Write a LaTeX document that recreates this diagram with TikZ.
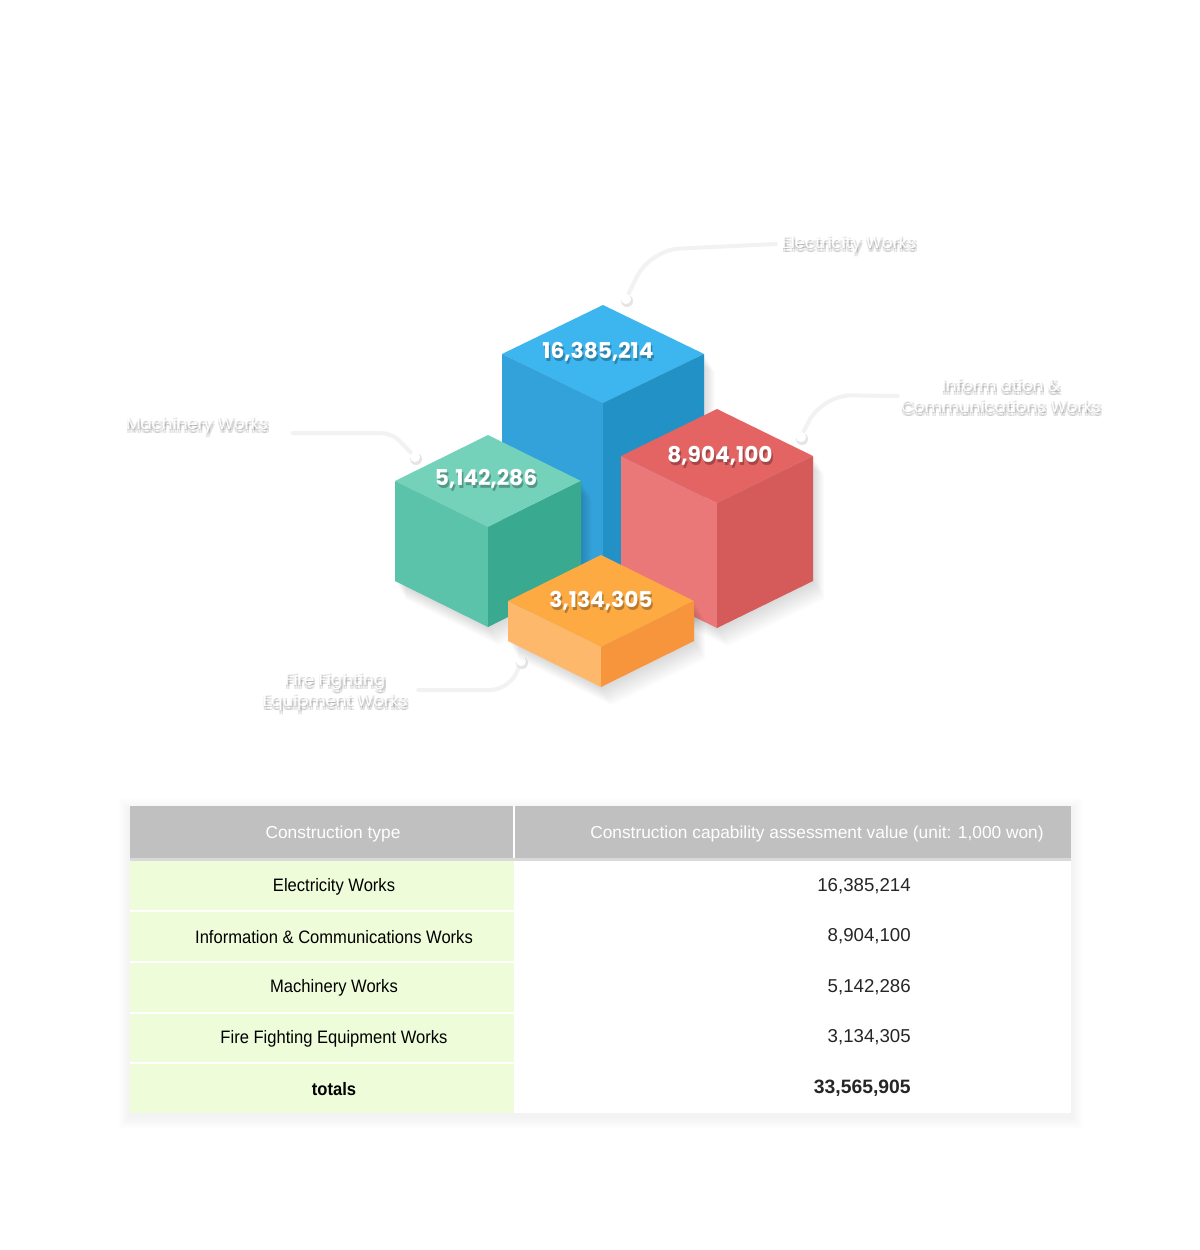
\documentclass[tikz,border=0pt]{standalone}
\usepackage{fontspec}
\setmainfont{Liberation Sans}
\newfontfamily\popfont{Poppins}
\newfontfamily\narrowfont[FakeStretch=0.92]{Liberation Sans}

\definecolor{bluetop}{HTML}{3DB6EF}
\definecolor{blueleft}{HTML}{33A2DA}
\definecolor{blueright}{HTML}{2291C6}
\definecolor{greentop}{HTML}{74D2BA}
\definecolor{greenleft}{HTML}{5CC3AB}
\definecolor{greenright}{HTML}{39AA8F}
\definecolor{redtop}{HTML}{E46363}
\definecolor{redleft}{HTML}{EB7878}
\definecolor{redright}{HTML}{D55B5B}
\definecolor{orangetop}{HTML}{FDAA43}
\definecolor{orangeleft}{HTML}{FDB86B}
\definecolor{orangeright}{HTML}{F6953B}
\definecolor{headgray}{HTML}{C0C0C0}
\definecolor{rowgreen}{HTML}{EEFCDA}

% name, x, top y, half width, half depth, height, top, left, right
\newcommand\isocube[9]{%
  \begin{scope}[shift={(#2,#3)}]
    \foreach \s in {2,4,...,18}
      \fill[black,opacity=.017] (\s*.6,\s) -- (#4+\s*.6,#5+\s) -- (#4+\s*.6,#5+#6+\s)
        -- (\s*.6,2*#5+#6+\s) -- (-#4+\s*.6,#5+#6+\s) -- (-#4+\s*.6,#5+\s) -- cycle;
    \fill[#7] (0,0) -- (#4,#5) -- (0,2*#5) -- (-#4,#5) -- cycle;
    \fill[#8] (-#4,#5) -- (0,2*#5) -- (0,2*#5+#6) -- (-#4,#5+#6) -- cycle;
    \fill[#9] (0,2*#5) -- (#4,#5) -- (#4,#5+#6) -- (0,2*#5+#6) -- cycle;
    \coordinate (#1) at (0,#5);
  \end{scope}}

% name, style, x, y, text
\newcommand\shadowtext[5]{%
  \node[#2,text=black,opacity=.28] (#1-sh) at (#3+1.5,#4+2.5) {#5};
  \node[#2] (#1) at (#3,#4) {#5};}

\newcommand\ghosttext[5]{%
  \foreach \dx/\dy in {0/1,2/1,0/4,2/4}
    \node[#2,text=black,opacity=.11] (#1-sh\dx\dy) at (#3+\dx,#4+\dy) {#5};
  \node[#2] (#1) at (#3,#4) {#5};}

\begin{document}
\begin{tikzpicture}[x=0.75pt,y=-0.75pt,
    cubeval/.style={font=\popfont\bfseries\fontsize{16.3}{16}\selectfont,text=white},
    ghost/.style={font=\popfont\fontsize{12.5}{15.5}\selectfont,text=white,align=center},
    leader/.style={draw=black!5,line width=3pt,line cap=round},
    dot/.style={fill=white},
    headtxt/.style={font=\fontsize{13}{14}\selectfont,text=white},
    rowtxt/.style={font=\narrowfont\fontsize{13.5}{14}\selectfont,text=black},
    valtxt/.style={font=\fontsize{14}{14}\selectfont,text=black!85,anchor=east,inner sep=0pt}]
  \fill[white] (0,0) rectangle (1200,1250);
  \useasboundingbox (0,0) rectangle (1200,1250);

  % labels and leaders
  \ghosttext{elec}{ghost}{849}{244}{Electricity Works}
  \ghosttext{info}{ghost}{1001}{396}{Inform ation \&\\Communications Works}
  \ghosttext{mach}{ghost}{197}{425}{Machinery Works}
  \ghosttext{fire}{ghost}{335}{692}{Fire Fighting\\Equipment Works}
  \coordinate (elec-dot) at (626,299);
  \coordinate (info-dot) at (801,437);
  \coordinate (mach-dot) at (415,457);
  \coordinate (fire-dot) at (521,661);
  \draw[leader,rounded corners=22] ([xshift=-1pt]elec.west) -- (650,250) -- (elec-dot);
  \draw[leader,rounded corners=22] ([xshift=1pt]info.west) -- (822,395) -- (info-dot);
  \draw[leader,rounded corners=8] ([shift={(20,8)}]mach.east) -- (392,433) -- (mach-dot);
  \draw[leader,rounded corners=15] ([shift={(6,-2)}]fire.east) -- (510,690) -- (fire-dot);
  \foreach \d in {elec-dot,info-dot,mach-dot,fire-dot} {
    \fill[black!10] ([shift={(1,2)}]\d) circle (4.5pt);
    \fill[dot] (\d) circle (3.8pt);
  }

  % cubes
  \isocube{elec-cube}{603}{305}{101}{49}{240}{bluetop}{blueleft}{blueright}
  \isocube{mach-cube}{488}{435}{93}{46}{100}{greentop}{greenleft}{greenright}
  \isocube{info-cube}{717}{409}{96}{47}{125}{redtop}{redleft}{redright}
  \isocube{fire-cube}{601}{555}{93}{46}{40}{orangetop}{orangeleft}{orangeright}
  \shadowtext{elec-val}{cubeval}{598}{352}{16,385,214}
  \shadowtext{mach-val}{cubeval}{486}{479}{5,142,286}
  \shadowtext{info-val}{cubeval}{720}{456}{8,904,100}
  \shadowtext{fire-val}{cubeval}{601}{601}{3,134,305}

  % table
  \foreach \s in {1,2,...,12}
    \fill[black,opacity=.005] (130-\s,806-\s+4) rectangle (1071+\s,1113+\s+4);
  \fill[white] (130,806) rectangle (1071,1113);
  \fill[headgray] (130,806) rectangle (1071,858);
  \fill[black!15] (130,858) rectangle (1071,860.5);
  \draw[white,line width=1pt] (514,806) -- (514,858);
  \fill[rowgreen] (130,860.5) rectangle (514,1113);
  \foreach \yy in {911,962,1013,1063}
    \draw[white,line width=1pt] (130,\yy) -- (514,\yy);
  \node[headtxt] (head-type) at (333,834) {Construction type};
  \node[headtxt] (head-val) at (817,834) {Construction capability assessment value (unit: 1,000 won)};
  \node[rowtxt] (r1-type) at (334,887) {Electricity Works};
  \node[rowtxt] (r2-type) at (334,937) {Information \& Communications Works};
  \node[rowtxt] (r3-type) at (334,988) {Machinery Works};
  \node[rowtxt] (r4-type) at (334,1039) {Fire Fighting Equipment Works};
  \node[rowtxt,font=\narrowfont\bfseries\fontsize{13.5}{14}\selectfont] (r5-type) at (334,1089) {totals};
  \node[valtxt] (r1-val) at (911,886) {16,385,214};
  \node[valtxt] (r2-val) at (911,936) {8,904,100};
  \node[valtxt] (r3-val) at (911,987) {5,142,286};
  \node[valtxt] (r4-val) at (911,1037) {3,134,305};
  \node[valtxt,font=\bfseries\fontsize{14.5}{14}\selectfont] (r5-val) at (911,1088) {33,565,905};
\end{tikzpicture}
\end{document}
